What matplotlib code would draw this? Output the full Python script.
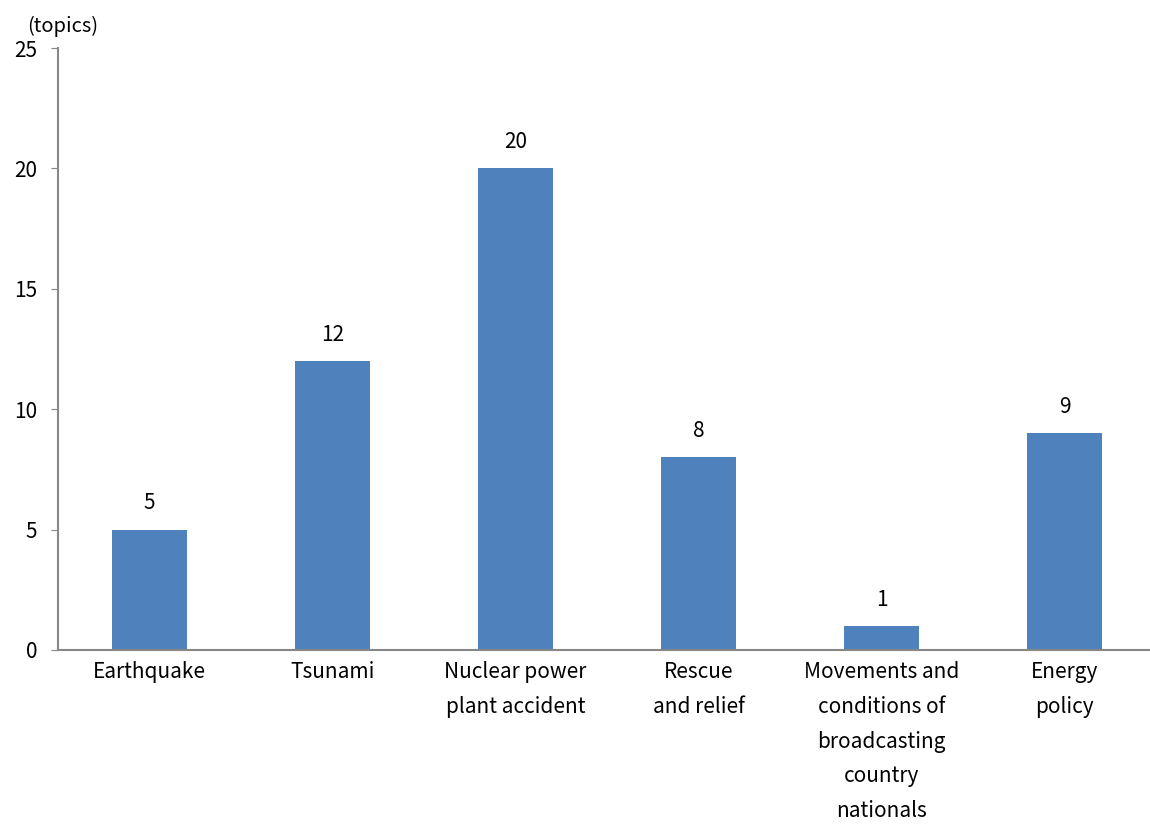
import matplotlib
matplotlib.use("Agg")
import matplotlib.pyplot as plt

plt.rcParams['font.family'] = ['Noto Sans CJK JP', 'DejaVu Sans']

# Chart data
categories = ['Earthquake', 'Tsunami', 'Nuclear power\nplant accident', 'Rescue\nand relief',
              'Movements and\nconditions of\nbroadcasting\ncountry\nnationals', 'Energy\npolicy']
topics = [5, 12, 20, 8, 1, 9]
y_ticks = [0, 5, 10, 15, 20, 25]

fig = plt.figure(figsize=(11.5, 8.32), dpi=100)
ax = fig.add_axes([0.0504, 0.2188, 0.955, 0.7235])

x = list(range(len(categories)))
bars = ax.bar(x, topics, width=0.41, color='#4F81BD', zorder=2)

# value labels on top of bars
for xi, v in zip(x, topics):
    ax.annotate(str(v), (xi, v), xytext=(0, 11), textcoords='offset points',
                ha='center', va='bottom', fontsize=15)

ax.set_xlim(-0.5, 5.5)
ax.set_ylim(0, 25)
ax.set_yticks(y_ticks)
ax.set_yticklabels([str(t) for t in y_ticks], fontsize=15)
ax.set_xticks(x)
ax.set_xticklabels(categories, fontsize=15, linespacing=1.75, va='top')
ax.tick_params(axis='x', length=0, pad=8)
ax.tick_params(axis='y', length=5, color='#878787', pad=10)

for s in ['top', 'right']:
    ax.spines[s].set_visible(False)
for s in ['left', 'bottom']:
    ax.spines[s].set_color('#878787')
    ax.spines[s].set_linewidth(1.5)

fig.text(0.024, 0.968, '(topics)', fontsize=14.5, ha='left', va='center')

fig.savefig('out.png', dpi=100)
